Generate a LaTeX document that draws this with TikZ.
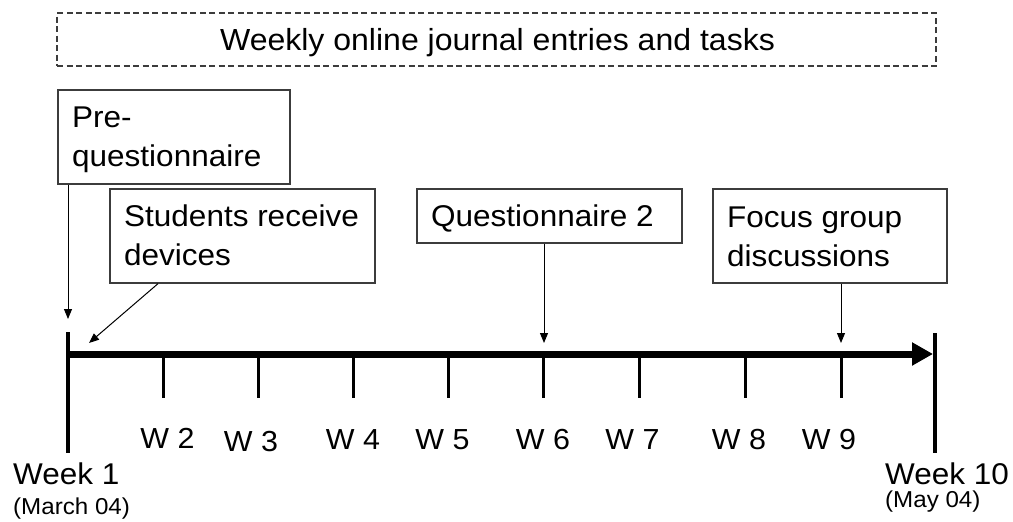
\documentclass[tikz,border=0pt]{standalone}
\usepackage{fontspec}
\setmainfont{Liberation Sans}[FakeStretch=1.05]
\usetikzlibrary{arrows.meta}
\definecolor{boxline}{HTML}{3C3C3C}
\tikzset{
  evbox/.style={draw=boxline, line width=1.3pt, rectangle, inner sep=0pt},
  evtext/.style={anchor=base west, align=left, inner sep=0pt, font=\fontsize{30pt}{38.5pt}\selectfont},
  wlab/.style={anchor=base, inner sep=0pt, font=\fontsize{29pt}{34pt}\selectfont},
  bigw/.style={anchor=base west, inner sep=0pt, font=\fontsize{30pt}{36pt}\selectfont},
  datelab/.style={anchor=base west, inner sep=0pt, font=\fontsize{23pt}{27pt}\selectfont},
  thinarr/.style={line width=1pt, -{Triangle[length=10pt,width=8pt]}},
  tickline/.style={line width=3pt},
  endbar/.style={line width=3.3pt},
}
\begin{document}
\begin{tikzpicture}[x=1pt,y=-1pt]
\useasboundingbox (0,0) rectangle (1013,522);
% dashed top box
\node[draw=boxline, line width=1.3pt, dash pattern=on 6pt off 3.5pt, minimum width=879pt, minimum height=53pt, inner sep=0pt] (journal) at (496.5,39.5) {};
\node[anchor=base, inner sep=0pt, font=\fontsize{30.5pt}{36pt}\selectfont] (journaltext) at (497.5,50) {Weekly online journal entries and tasks};
% event boxes
\node[evbox, minimum width=232pt, minimum height=94pt] (pre) at (174,137) {};
\node[evtext] (pretext) at (72,166) {Pre-\\questionnaire};
\node[evbox, minimum width=265pt, minimum height=94pt] (stud) at (242.5,236) {};
\node[evtext] (studtext) at (124,265) {Students receive\\devices};
\node[evbox, minimum width=265pt, minimum height=54pt] (qtwo) at (549.5,216) {};
\node[evtext] (qtwotext) at (431,226) {Questionnaire 2};
\node[evbox, minimum width=234pt, minimum height=94pt] (focus) at (830,236) {};
\node[evtext] (focustext) at (727,266) {Focus group\\discussions};
% timeline
\coordinate (start) at (68,354);
\coordinate (tip) at (933,354);
\draw[line width=7pt, -{Triangle[length=21pt,width=22pt]}] (start) -- (tip);
\coordinate (wka) at (68,332);
\coordinate (wkb) at (68,453);
\draw[endbar] (wka) -- (wkb);
\coordinate (wkc) at (935,333);
\coordinate (wkd) at (935,453);
\draw[endbar] (wkc) -- (wkd);
% ticks
\foreach \n/\x in {2/163,3/258,4/353,5/448,6/543,7/639,8/745,9/841}{
  \coordinate (t\n top) at (\x,354);
  \coordinate (t\n bot) at (\x,398);
  \draw[tickline] (t\n top) -- (t\n bot);
}
% tick labels
\node[wlab] (lw2) at (167.5,448) {W 2};
\node[wlab] (lw3) at (251,451) {W 3};
\node[wlab] (lw4) at (353,449) {W 4};
\node[wlab] (lw5) at (442.5,449) {W 5};
\node[wlab] (lw6) at (543,449) {W 6};
\node[wlab] (lw7) at (632.5,449) {W 7};
\node[wlab] (lw8) at (739,449) {W 8};
\node[wlab] (lw9) at (829,449) {W 9};
\node[bigw] (weekone) at (13,484) {Week 1};
\node[datelab] (march) at (13,514) {(March 04)};
\node[bigw] (weekten) at (885,484) {Week 10};
\node[datelab] (may) at (885,507) {(May 04)};
% connectors
\coordinate (pretip) at (68,319);
\draw[thinarr] (pre.south -| pretip) -- (pretip);
\coordinate (studfrom) at (158,283);
\coordinate (studtip) at (89,343);
\draw[thinarr] (stud.south -| studfrom) -- (studtip);
\coordinate (qtip) at (544,343);
\draw[thinarr] (qtwo.south -| qtip) -- (qtip);
\coordinate (ftip) at (841,343);
\draw[thinarr] (focus.south -| ftip) -- (ftip);
\end{tikzpicture}
\end{document}
